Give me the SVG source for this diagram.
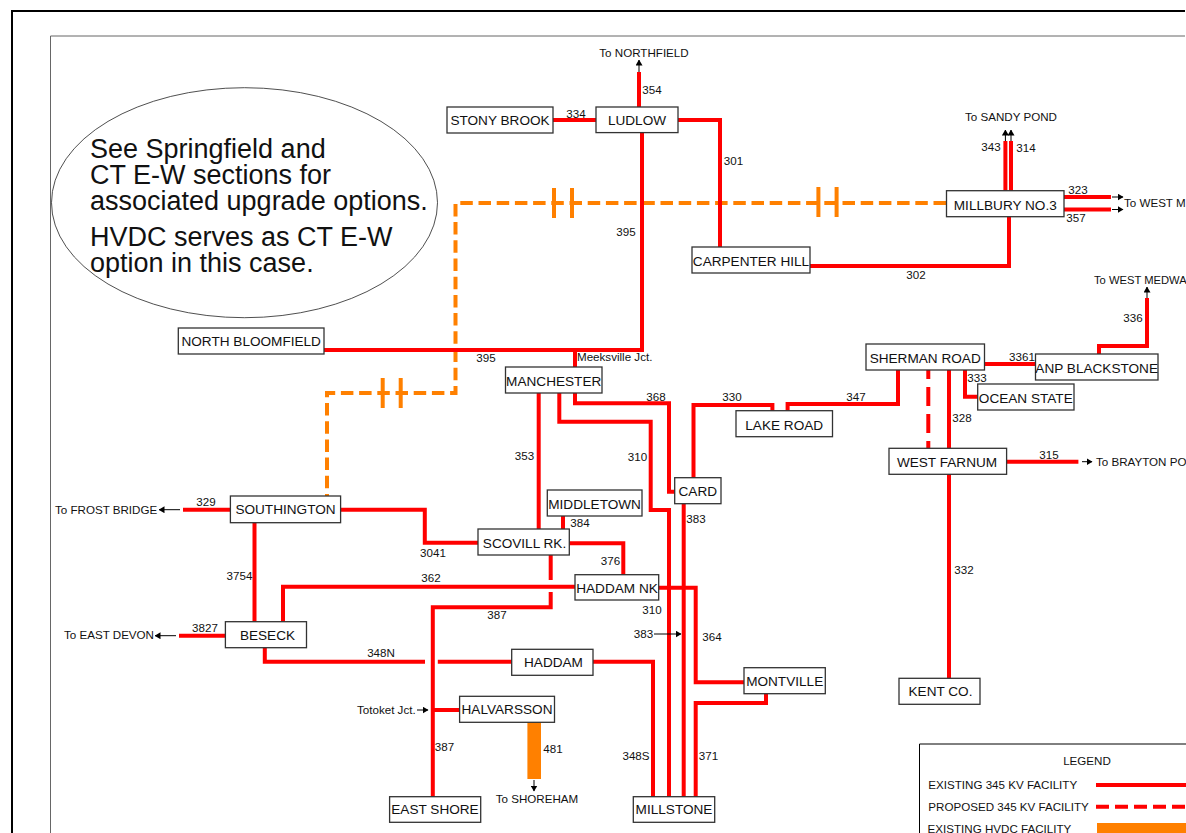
<svg xmlns="http://www.w3.org/2000/svg" width="1186" height="833" viewBox="0 0 1186 833">
<style>
text{font-family:"Liberation Sans",Arial,sans-serif;fill:#111}
.n{fill:#fff;stroke:#333;stroke-width:1.3}
.t{font-size:13.6px;text-anchor:middle}
.l{font-size:11.600px;text-anchor:middle}
.s{font-size:11.600px}
.r{fill:none;stroke:#f00;stroke-width:4}
.p{fill:none;stroke:#f00;stroke-width:4;stroke-dasharray:19 8;stroke-dashoffset:10}
.q{fill:none;stroke:#f00;stroke-width:4;stroke-dasharray:13 6}
.o{fill:none;stroke:#ff8000;stroke-width:4;stroke-dasharray:12.500 5.700}
.k{fill:none;stroke:#ff8000;stroke-width:4}
.a{fill:none;stroke:#000;stroke-width:1;marker-end:url(#h)}
.c{font-size:27px}
</style>
<defs><marker id="h" viewBox="0 0 6 7" refX="5.500" refY="3.500" markerWidth="6" markerHeight="7" markerUnits="userSpaceOnUse" orient="auto"><path d="M0 0L6 3.500L0 7z" fill="#000"/></marker></defs>
<rect width="1186" height="833" fill="#fff"/>
<path d="M12 833V11H1185" fill="none" stroke="#000" stroke-width="2"/>
<path d="M50.500 833V36H1185" fill="none" stroke="#666" stroke-width="1"/>
<g id="note">
<ellipse cx="244.500" cy="202.700" rx="193" ry="115" fill="#fff" stroke="#222" stroke-width="0.8"/>
<text class="c" x="90" y="157.500">See Springfield and</text>
<text class="c" x="90" y="184">CT E-W sections for</text>
<text class="c" x="90" y="209.500">associated upgrade options.</text>
<text class="c" x="90" y="246">HVDC serves as CT E-W</text>
<text class="c" x="90" y="272">option in this case.</text>
</g>
<g id="connectors">
<path class="o" d="M946 203H455.500V393H327V496"/>
<path class="k" d="M554 188V218M572 188V218M818.400 187V217M836.600 187V217M382.700 378V408M400.700 378V408"/>
<path class="r" d="M639 72V107M553 120H596M678 120H720V247M642 133V350H324M575 350V367"/>
<path class="r" d="M1005.400 141V191M1011 141V191M1064 197H1111M1064 209.500H1111M1009 216.700V266H810"/>
<path class="r" d="M1147 298V346H1099V354M984.500 364H1035.500M965 370V396.700H978M949 370V448M949 474V678.300M1006.600 461.700H1078.400"/>
<path class="p" d="M928.300 370V448"/>
<path class="r" d="M898 370V404H787.600V411M772.400 411V405H693.500V478"/>
<path class="r" d="M575 393V403.300H669V491.700H675M559.300 393V421.700H650.700V510H669V797M683.700 503.700V797M538.700 393V529M563 516V529"/>
<path class="r" d="M340.600 509.700H424.800V542.700H478M569.300 543.300H623.300V575M575 586.700H283V621.700M550.700 555V580M550.700 592V607.300H432.800V797M658.700 587.700H695.700V682.300H744M766 693.700V703H695.700V797"/>
<path class="r" d="M264.800 647.700V661.700H425M437.800 661.700H511.700M593 661.700H653V797M433 710H459.600M179 635.700H225.400M183 509.700H230.400M254.500 522.700V621.700"/>
<rect x="527.400" y="722" width="13.600" height="57" fill="#ff8000"/>
<path class="a" d="M639 72V60"/>
<path class="a" d="M1005.400 141V130"/>
<path class="a" d="M1011 141V130"/>
<path class="a" d="M1112 197H1123"/>
<path class="a" d="M1112 209.500H1123"/>
<path class="a" d="M1147 298V287"/>
<path class="a" d="M180 509.700H159"/>
<path class="a" d="M176 635.700H155"/>
<path class="a" d="M1082 461.700H1092"/>
<path class="a" d="M654 634H681"/>
<path class="a" d="M417 710H428"/>
<path class="a" d="M534 780V791"/>
</g>
<g id="labels">
<text class="l" x="644" y="57">To NORTHFIELD</text>
<text class="l" x="652" y="94">354</text>
<text class="l" x="576" y="117.500">334</text>
<text class="l" x="733.500" y="165">301</text>
<text class="l" x="626" y="236">395</text>
<text class="l" x="486" y="362">395</text>
<text class="s" x="577" y="361">Meeksville Jct.</text>
<text class="l" x="916" y="279">302</text>
<text class="l" x="1011" y="121">To SANDY POND</text>
<text class="l" x="991" y="151">343</text>
<text class="l" x="1026" y="152">314</text>
<text class="l" x="1078" y="194">323</text>
<text class="l" x="1076" y="222">357</text>
<text class="s" x="1124" y="207">To WEST M</text>
<text x="1094" y="284" font-size="11.200">To WEST MEDWA</text>
<text class="l" x="1133" y="322">336</text>
<text class="l" x="1022" y="361">3361</text>
<text class="l" x="977" y="382">333</text>
<text class="l" x="962" y="422">328</text>
<text class="l" x="656" y="401">368</text>
<text class="l" x="732" y="401">330</text>
<text class="l" x="856" y="401">347</text>
<text class="l" x="524.500" y="460">353</text>
<text class="l" x="637.500" y="461">310</text>
<text class="l" x="696" y="523">383</text>
<text class="l" x="580" y="527">384</text>
<text class="l" x="610.500" y="565">376</text>
<text class="l" x="433" y="557">3041</text>
<text class="l" x="206" y="506">329</text>
<text class="s" x="55" y="514">To FROST BRIDGE</text>
<text class="l" x="239.500" y="580">3754</text>
<text class="l" x="431" y="582">362</text>
<text class="l" x="497" y="619">387</text>
<text class="s" x="64" y="639">To EAST DEVON</text>
<text class="l" x="205" y="632">3827</text>
<text class="l" x="381" y="657">348N</text>
<text class="l" x="652" y="614">310</text>
<text class="l" x="643.500" y="638">383</text>
<text class="l" x="712" y="641">364</text>
<text class="s" x="357" y="714">Totoket Jct.</text>
<text class="l" x="444.500" y="751">387</text>
<text class="l" x="553" y="753">481</text>
<text class="l" x="537" y="803">To SHOREHAM</text>
<text class="l" x="636" y="760">348S</text>
<text class="l" x="708.500" y="760">371</text>
<text class="l" x="964" y="574">332</text>
<text class="l" x="1049" y="459">315</text>
<text class="s" x="1096" y="466">To BRAYTON PO</text>
</g>
<g id="stony-brook"><rect class="n" x="447" y="107" width="106" height="26"/><text class="t" x="500" y="125">STONY BROOK</text></g>
<g id="ludlow"><rect class="n" x="596" y="107" width="82" height="25.600"/><text class="t" x="637" y="125">LUDLOW</text></g>
<g id="north-bloomfield"><rect class="n" x="178.300" y="328" width="145.700" height="26"/><text class="t" x="251.200" y="346">NORTH BLOOMFIELD</text></g>
<g id="manchester"><rect class="n" x="505.500" y="367" width="96.500" height="26"/><text class="t" x="553.700" y="386">MANCHESTER</text></g>
<g id="carpenter-hill"><rect class="n" x="692" y="247" width="118" height="26"/><text class="t" x="751" y="266">CARPENTER HILL</text></g>
<g id="millbury"><rect class="n" x="946.500" y="190.700" width="117.500" height="26"/><text class="t" x="1005.300" y="210">MILLBURY NO.3</text></g>
<g id="sherman-road"><rect class="n" x="866" y="344" width="118.500" height="26"/><text class="t" x="925.200" y="363">SHERMAN ROAD</text></g>
<g id="anp-blackstone"><rect class="n" x="1035.500" y="354" width="122.500" height="26"/><text class="t" x="1096.700" y="373">ANP BLACKSTONE</text></g>
<g id="ocean-state"><rect class="n" x="977.700" y="384" width="96.300" height="26"/><text class="t" x="1025.800" y="403">OCEAN STATE</text></g>
<g id="lake-road"><rect class="n" x="736" y="410.700" width="96.500" height="26"/><text class="t" x="784.200" y="430">LAKE ROAD</text></g>
<g id="card"><rect class="n" x="674.700" y="477.700" width="46.300" height="26"/><text class="t" x="697.800" y="496">CARD</text></g>
<g id="middletown"><rect class="n" x="547.300" y="490" width="94.700" height="26"/><text class="t" x="594.600" y="508.500">MIDDLETOWN</text></g>
<g id="scovill-rk"><rect class="n" x="478" y="529" width="91.300" height="26"/><text class="t" x="524.500" y="548">SCOVILL RK.</text></g>
<g id="haddam-nk"><rect class="n" x="575" y="574.700" width="83.700" height="25.300"/><text class="t" x="617" y="592.500">HADDAM NK</text></g>
<g id="haddam"><rect class="n" x="511.700" y="649.300" width="81.300" height="26"/><text class="t" x="553.500" y="667">HADDAM</text></g>
<g id="southington"><rect class="n" x="230.400" y="496" width="110.200" height="26.700"/><text class="t" x="285.500" y="514">SOUTHINGTON</text></g>
<g id="beseck"><rect class="n" x="225.400" y="621.700" width="81.100" height="26"/><text class="t" x="267.500" y="640">BESECK</text></g>
<g id="halvarsson"><rect class="n" x="459.600" y="696.300" width="94.900" height="26"/><text class="t" x="507" y="714">HALVARSSON</text></g>
<g id="east-shore"><rect class="n" x="389.600" y="796.700" width="91.100" height="25.600"/><text class="t" x="435" y="814">EAST SHORE</text></g>
<g id="millstone"><rect class="n" x="633.300" y="796.700" width="81.400" height="25.600"/><text class="t" x="674" y="814">MILLSTONE</text></g>
<g id="montville"><rect class="n" x="744" y="667.700" width="81.300" height="26"/><text class="t" x="784.700" y="686">MONTVILLE</text></g>
<g id="west-farnum"><rect class="n" x="889" y="448.300" width="117.600" height="26"/><text class="t" x="947" y="467">WEST FARNUM</text></g>
<g id="kent-co"><rect class="n" x="899" y="678.300" width="81" height="26"/><text class="t" x="940.500" y="696">KENT CO.</text></g>
<g id="legend">
<path d="M919.500 833V744H1186" fill="none" stroke="#000" stroke-width="1"/>
<text class="l" x="1087" y="765">LEGEND</text>
<text class="s" x="928.300" y="789">EXISTING 345 KV FACILITY</text>
<path class="r" d="M1096 785H1186"/>
<text class="s" x="928.300" y="811">PROPOSED 345 KV FACILITY</text>
<path class="q" d="M1096 806.700H1186"/>
<text class="s" x="927.600" y="833">EXISTING HVDC FACILITY</text>
<rect x="1097" y="823" width="89" height="10" fill="#ff8000"/>
</g>
</svg>
